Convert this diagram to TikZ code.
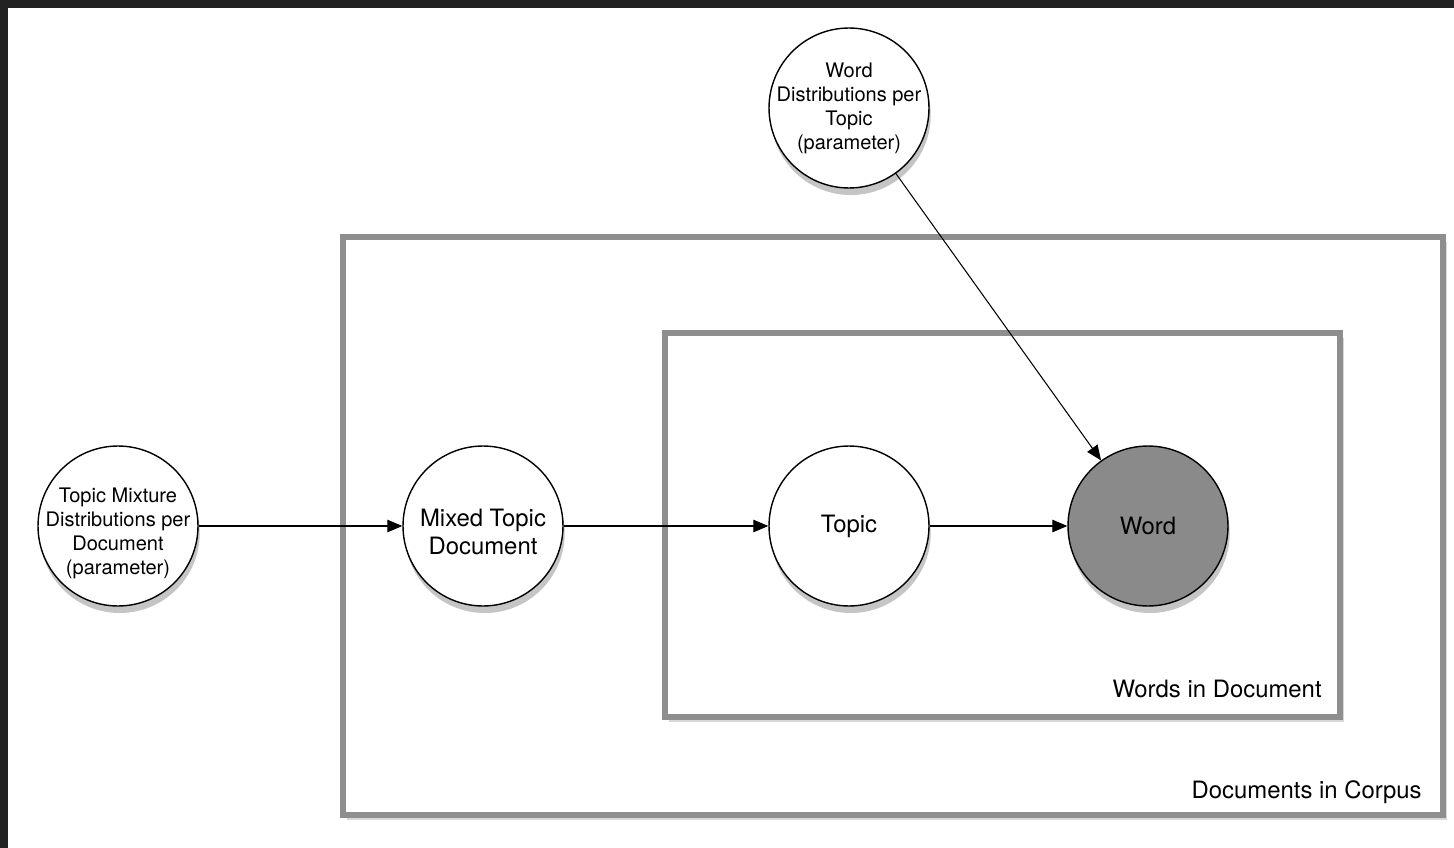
\documentclass[tikz,border=0pt]{standalone}
\usepackage{fontspec}
\setmainfont{TeX Gyre Heros}
\usetikzlibrary{arrows.meta,shadows}
\definecolor{framegray}{HTML}{8E8E8E}
\definecolor{obsgray}{HTML}{8A8A8A}
\definecolor{darkedge}{HTML}{222222}
\newcommand{\droptext}{\rule{0pt}{0.58cm}}

\begin{document}
\begin{tikzpicture}[
      x=0.02cm,y=-0.02cm,
      var/.style={circle,draw,thick,fill=white,minimum size=3.2cm,inner sep=-0.4cm,align=center,
        drop shadow={shadow xshift=1pt,shadow yshift=-4pt,opacity=0.45}},
      small/.style={font=\fontsize{11.4}{13.7}\selectfont},
      big/.style={font=\fontsize{13.6}{15.9}\selectfont},
      plate/.style={draw=framegray,line width=3.6pt,fill=white,
        drop shadow={shadow xshift=2pt,shadow yshift=-3pt,opacity=0.3}},
      edge/.style={-{Triangle[length=0.3cm,width=0.25cm]},semithick}
    ]
    \useasboundingbox (0,0) rectangle (1454,848);
    \fill[darkedge] (0,0) rectangle (1454,848);
    \fill[white] (8,8) rectangle (1454,848);
    % plates
    \draw[plate] (343,237) rectangle (1443,815);
    \node[big,inner sep=0pt,anchor=base east] (corpus) at (1422,798) {Documents in Corpus};
    \draw[plate] (665,333) rectangle (1340,717);
    \node[big,inner sep=0pt,anchor=base east] (words) at (1322,697) {Words in Document};
    % variables
    \node[var,small] (wdist) at (849,108) {Word\\Distributions per\\Topic\\(parameter)};
    \node[var,small] (mix) at (118,526) {\droptext Topic Mixture\\Distributions per\\Document\\(parameter)};
    \node[var,big] (doc) at (483,526) {\droptext Mixed Topic\\Document};
    \node[var,big] (topic) at (849,526) {Topic};
    \node[var,big,fill=obsgray] (word) at (1148,526) {Word};
    % edges
    \foreach \a/\b in {mix/doc,doc/topic,topic/word,wdist/word}
      \draw[edge] (\a) -- (\b);
  \end{tikzpicture}
\end{document}
